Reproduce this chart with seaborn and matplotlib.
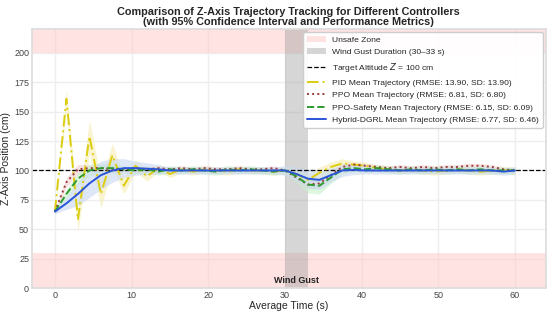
import numpy as np
import pandas as pd
import matplotlib
matplotlib.use("Agg")
import matplotlib.pyplot as plt
import seaborn as sns

# time grid (s) and mean trajectories (cm)
time_s = np.arange(0, 60.1, 1.5)

pid_mean = [65, 161, 58, 129, 80, 113, 87, 104, 95, 102, 97, 101, 99, 101,
            100, 99, 101, 100, 100, 99, 100, 97, 92, 98, 103, 106, 105, 104,
            102, 101, 100, 101, 100, 99, 100, 101, 100, 99, 100, 100, 100]
pid_sd = [2, 8, 10, 14, 12, 10, 7, 5, 4, 3, 3, 3, 3, 3, 3, 3, 3, 3, 3, 3,
          3, 4, 5, 5, 4, 4, 3, 3, 3, 3, 3, 3, 3, 3, 3, 3, 3, 3, 3, 3, 3]

ppo_mean = [65, 90, 101, 102, 102, 101, 101, 102, 101, 102, 101, 102, 101,
            102, 101, 101, 102, 101, 101, 102, 100, 94, 88, 89, 96, 103, 105,
            104, 103, 102, 103, 102, 103, 102, 103, 103, 104, 104, 103, 101, 100]
ppo_sd = [2, 4, 4, 3, 3, 3, 2, 2, 2, 2, 2, 2, 2, 2, 2, 2, 2, 2, 2, 2,
          2, 3, 4, 4, 3, 3, 2, 2, 2, 2, 2, 2, 2, 2, 2, 2, 2, 2, 2, 2, 2]

safe_mean = [65, 80, 93, 100, 102, 102, 101, 100, 101, 99, 101, 100, 101,
             100, 99, 101, 100, 101, 100, 99, 100, 95, 88, 87, 94, 101, 102,
             101, 102, 101, 100, 101, 100, 101, 100, 101, 100, 101, 100, 100, 100]
safe_sd = [2, 4, 5, 5, 4, 4, 3, 3, 3, 3, 3, 3, 3, 3, 3, 3, 3, 3, 3, 3,
           3, 5, 7, 7, 5, 4, 3, 3, 3, 3, 3, 3, 3, 3, 3, 3, 3, 3, 3, 3, 3]

hybrid_mean = [65, 72, 80, 89, 96, 100, 102, 102, 101.5, 101, 100, 100, 100,
               100, 100, 100, 100, 100, 100, 100, 100, 97, 93, 92, 96, 100,
               100.5, 100, 100, 100, 100, 100, 100, 100, 100, 100, 100, 100,
               100, 99, 100]
hybrid_sd = [2, 5, 10, 12, 12, 10, 8, 6, 5, 4, 3, 3, 3, 3, 3, 3, 3, 3, 3, 3,
             4, 6, 8, 8, 6, 5, 4, 3, 3, 3, 3, 3, 3, 3, 3, 3, 3, 3, 3, 3, 3]

controllers = [
    ("PID Mean Trajectory (RMSE: 13.90, SD: 13.90)", pid_mean, pid_sd, "#dccd10", (0, (6, 2, 1, 2)), "#f5eeb0"),
    ("PPO Mean Trajectory (RMSE: 6.81, SD: 6.80)", ppo_mean, ppo_sd, "#9b3b3b", ":", "#f2d0d0"),
    ("PPO-Safety Mean Trajectory (RMSE: 6.15, SD: 6.09)", safe_mean, safe_sd, "#2f9a2f", "--", "#c8f0c8"),
    ("Hybrid-DGRL Mean Trajectory (RMSE: 6.77, SD: 6.46)", hybrid_mean, hybrid_sd, "#2b55d8", "-", "#c9d8f3"),
]

sns.set_theme(style="whitegrid")
plt.rcParams["font.family"] = ["Liberation Sans", "DejaVu Sans"]
plt.rcParams["grid.color"] = "#eeeeee"
plt.rcParams["axes.edgecolor"] = "#dddddd"

fig, ax = plt.subplots(figsize=(5.5, 3.2), dpi=100)
fig.subplots_adjust(left=0.058, right=0.992, top=0.908, bottom=0.1)

ax.axhspan(0, 30, color="#ffcccc", alpha=0.55, lw=0, label="Unsafe Zone")
ax.axhspan(200, 220, color="#ffcccc", alpha=0.55, lw=0)
ax.axvspan(30, 33, color="#999999", alpha=0.4, lw=0, label="Wind Gust Duration (30–33 s)")
ax.axhline(100, color="black", ls="--", lw=0.9, label="Target Altitude $Z$ = 100 cm")

for label, mean, sd, color, ls, band in controllers:
    m = np.array(mean, dtype=float)
    s = np.array(sd, dtype=float)
    ax.fill_between(time_s, m - s, m + s, color=band, alpha=0.6, lw=0)

for label, mean, sd, color, ls, band in controllers:
    df = pd.DataFrame({"t": time_s, "z": mean})
    sns.lineplot(data=df, x="t", y="z", ax=ax, color=color, lw=1.4,
                 linestyle=ls, label=label)

ax.text(31.5, 6, "Wind Gust", ha="center", va="center", fontsize=6.5,
        fontweight="bold", color="#222222")

ax.set_xlim(-3, 64)
ax.set_ylim(0, 220)
ax.set_yticks([0, 25, 50, 75, 100, 125, 150, 175, 200])
ax.set_xlabel("Average Time (s)", fontsize=7.5, labelpad=1)
ax.set_ylabel("Z-Axis Position (cm)", fontsize=7.5, labelpad=2)
ax.tick_params(labelsize=6.5, colors="#444444", length=0, pad=2)
ax.set_title("Comparison of Z-Axis Trajectory Tracking for Different Controllers\n"
             "(with 95% Confidence Interval and Performance Metrics)",
             fontsize=7.8, fontweight="bold", pad=3, linespacing=1.0)

leg = ax.legend(loc="upper right", fontsize=6.1, frameon=True, framealpha=0.95,
                borderpad=0.45, labelspacing=0.55, handlelength=2.2,
                borderaxespad=0.3)
leg.get_frame().set_edgecolor("#cccccc")

plt.savefig("out.png", dpi=100)
plt.close()
